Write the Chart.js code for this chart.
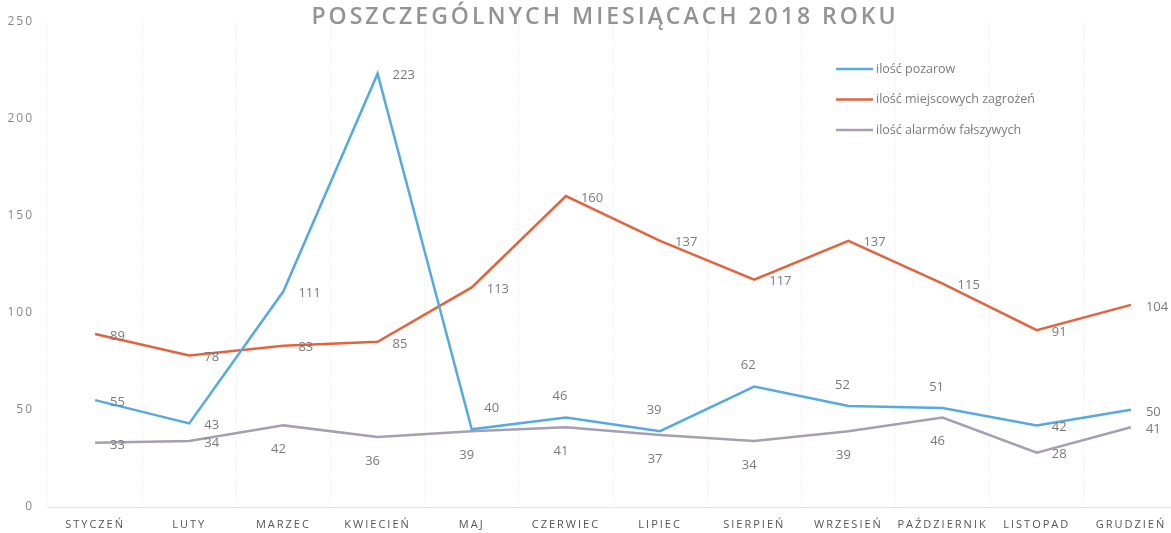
<!DOCTYPE html>
<html>
<head>
<meta charset="utf-8">
<script src="https://cdn.jsdelivr.net/npm/chart.js@4"></script>
<style>
  html, body { margin: 0; padding: 0; background: #fff; overflow: hidden; }
  #wrap { width: 1190px; height: 533px; }
</style>
</head>
<body>
<div id="wrap"><canvas id="wykres"></canvas></div>
<script>
// dane z wykresu
const miesiace = ['STYCZEŃ', 'LUTY', 'MARZEC', 'KWIECIEŃ', 'MAJ', 'CZERWIEC', 'LIPIEC', 'SIERPIEŃ', 'WRZESIEŃ', 'PAŹDZIERNIK', 'LISTOPAD', 'GRUDZIEŃ'];
const pozary = [55, 43, 111, 223, 40, 46, 39, 62, 52, 51, 42, 50];
const zagrozenia = [89, 78, 83, 85, 113, 160, 137, 117, 137, 115, 91, 104];
const alarmy = [33, 34, 42, 36, 39, 41, 37, 34, 39, 46, 28, 41];
const yTicks = [0, 50, 100, 150, 200, 250];

// gdzie stoi etykieta wartości: r = po prawej, a = nad, b = pod
const etykietyPozary = ['r', 'r', 'r', 'r', 'ar', 'a', 'a', 'a', 'a', 'a', 'r', 'r'];
const etykietyZagrozenia = ['r', 'r', 'r', 'r', 'r', 'r', 'r', 'r', 'r', 'r', 'r', 'r'];
const etykietyAlarmy = ['r', 'r', 'b', 'b', 'b', 'b', 'b', 'b', 'b', 'b', 'r', 'r'];

const kolorTekstu = '#7a7a7a';

const etykietyPlugin = {
    id: 'etykiety',
    afterDatasetsDraw(chart) {
        const ctx = chart.ctx;
        ctx.save();
        ctx.font = '13px "Open Sans"';
        ctx.fillStyle = kolorTekstu;
        ctx.textBaseline = 'middle';
        chart.data.datasets.forEach((ds, i) => {
            const meta = chart.getDatasetMeta(i);
            meta.data.forEach((pt, j) => {
                const tryb = ds.pozycje[j];
                const txt = String(ds.data[j]);
                let x = pt.x, y = pt.y;
                if (tryb === 'r') { ctx.textAlign = 'left'; x += 15; y += 2; }
                else if (tryb === 'a') { ctx.textAlign = 'center'; x -= 6; y -= 21; }
                else if (tryb === 'ar') { ctx.textAlign = 'center'; x += 20; y -= 21; }
                else { ctx.textAlign = 'center'; x -= 5; y += 24; }
                ctx.fillText(txt, x, y);
            });
        });
        ctx.restore();
    }
};

const tytulLegendaPlugin = {
    id: 'tytulLegenda',
    beforeDraw(chart) {
        chart.ctx.letterSpacing = '2px';
    },
    beforeDatasetsDraw(chart) {
        chart.ctx.letterSpacing = '0px';
    },
    afterDraw(chart) {
        const ctx = chart.ctx;
        ctx.save();
        // tytuł
        ctx.letterSpacing = '3px';
        ctx.font = '600 23px "Open Sans"';
        ctx.fillStyle = '#939393';
        ctx.textAlign = 'center';
        ctx.textBaseline = 'middle';
        ctx.fillText('POSZCZEGÓLNYCH MIESIĄCACH 2018 ROKU', 605, 17);
        ctx.letterSpacing = '0px';
        // legenda
        ctx.font = '12.5px "Open Sans"';
        ctx.textAlign = 'left';
        chart.data.datasets.forEach((ds, i) => {
            const y = 69 + i * 30.5;
            ctx.strokeStyle = ds.borderColor;
            ctx.lineWidth = 2.5;
            ctx.beginPath();
            ctx.moveTo(836, y);
            ctx.lineTo(873, y);
            ctx.stroke();
            ctx.fillStyle = kolorTekstu;
            ctx.fillText(ds.label, 876, y);
        });
        ctx.restore();
    }
};

new Chart(document.getElementById('wykres'), {
    type: 'line',
    data: {
        labels: miesiace,
        datasets: [
            {
                label: 'ilość pozarow',
                data: pozary,
                pozycje: etykietyPozary,
                borderColor: '#55aadf',
                borderWidth: 2.5,
                pointRadius: 0,
                tension: 0
            },
            {
                label: 'ilość miejscowych zagrożeń',
                data: zagrozenia,
                pozycje: etykietyZagrozenia,
                borderColor: '#e3633d',
                borderWidth: 2.5,
                pointRadius: 0,
                tension: 0
            },
            {
                label: 'ilość alarmów fałszywych',
                data: alarmy,
                pozycje: etykietyAlarmy,
                borderColor: '#a69eb1',
                borderWidth: 2.5,
                pointRadius: 0,
                tension: 0
            }
        ]
    },
    options: {
        responsive: true,
        maintainAspectRatio: false,
        animation: false,
        layout: { padding: { top: 17, right: 12, bottom: 0, left: 0 } },
        scales: {
            x: {
                offset: true,
                grid: {
                    offset: true,
                    drawTicks: false,
                    color: '#e8e8e8',
                    lineWidth: 1
                },
                border: { display: true, color: '#e4e4e4', dash: [1, 2] },
                ticks: {
                    color: '#555',
                    font: { family: '"Open Sans"', size: 11 },
                    padding: 11,
                    maxRotation: 0,
                    autoSkip: false
                },
                afterFit(scale) { scale.height = 26; }
            },
            y: {
                min: 0,
                max: 250,
                afterBuildTicks(scale) { scale.ticks = yTicks.map(v => ({ value: v })); },
                grid: { display: false, drawTicks: false },
                border: { display: false },
                ticks: {
                    color: '#888',
                    font: { family: '"Open Sans"', size: 12 },
                    padding: 14
                },
                afterFit(scale) { scale.width = 48; }
            }
        },
        plugins: {
            legend: { display: false },
            tooltip: { enabled: false }
        }
    },
    plugins: [etykietyPlugin, tytulLegendaPlugin]
});
</script>
</body>
</html>
